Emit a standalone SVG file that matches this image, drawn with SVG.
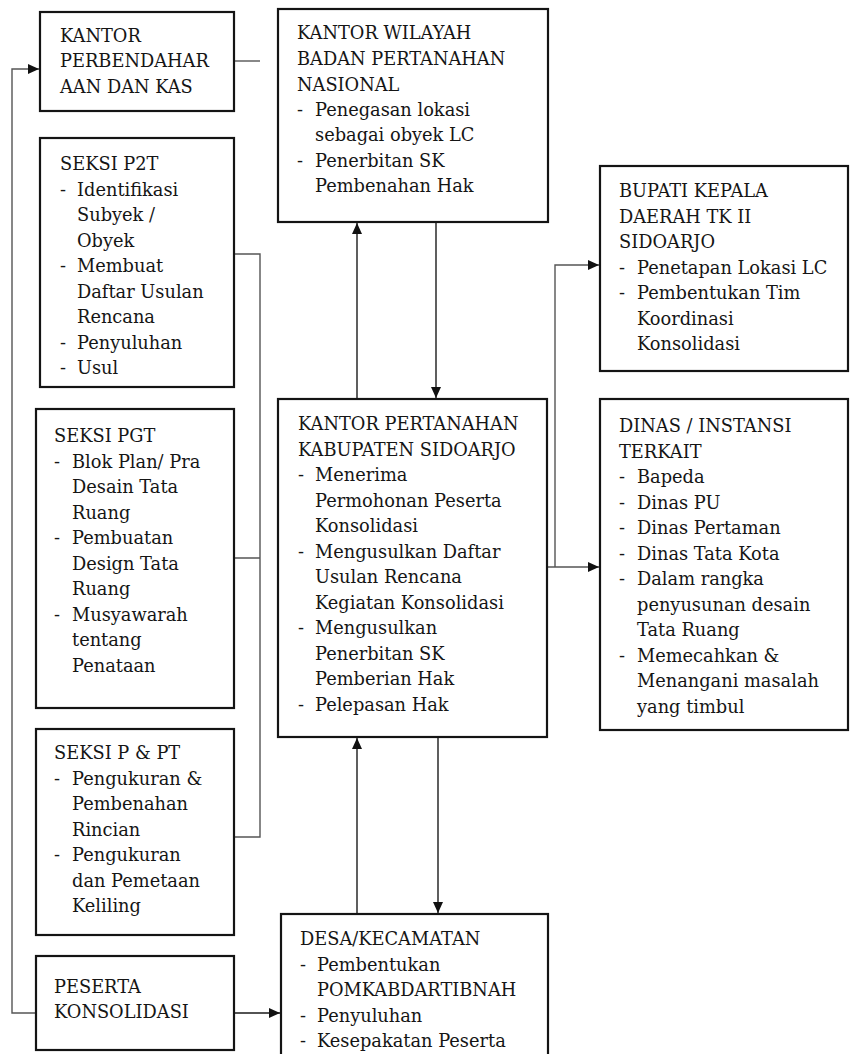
<svg xmlns="http://www.w3.org/2000/svg" width="851" height="1054" viewBox="0 0 851 1054">
<style>
.box{fill:#fff;stroke:#141414;stroke-width:2.2}
.t{font-family:"DejaVu Serif","Liberation Serif",serif;font-size:17.8px;fill:#151515}
.c{fill:none;stroke:#1a1a1a;stroke-width:1.4}
.g{fill:none;stroke:#555;stroke-width:1.4}
</style>
<defs>
<marker id="ah" markerUnits="userSpaceOnUse" markerWidth="11" markerHeight="10" refX="11" refY="5" orient="auto">
<path d="M0,0 L11,5 L0,10 z" fill="#111"/>
</marker>
</defs>
<rect width="851" height="1054" fill="#fff"/>
<g id="connectors">
<path class="g" d="M36,1013 H12 V69 H39" marker-end="url(#ah)"/>
<path class="g" d="M234,61 H260"/>
<path class="g" d="M234,254 H260 V837 H234 M234,558 H260"/>
<path class="c" d="M357,399 V223" marker-end="url(#ah)"/>
<path class="c" d="M436,222 V398" marker-end="url(#ah)"/>
<path class="c" d="M357,914 V738" marker-end="url(#ah)"/>
<path class="c" d="M438,737 V913" marker-end="url(#ah)"/>
<path class="c" d="M234,1013 H280" marker-end="url(#ah)"/>
<path class="g" d="M547,567 H599" marker-end="url(#ah)"/>
<path class="g" d="M555,567 V265 H599" marker-end="url(#ah)"/>
</g>
<g id="perbendaharaan">
<rect class="box" x="40" y="12" width="194" height="99"/>
<text class="t" x="60" y="42">KANTOR</text>
<text class="t" x="60" y="67">PERBENDAHAR</text>
<text class="t" x="60" y="93">AAN DAN KAS</text>
</g>
<g id="kanwil">
<rect class="box" x="278" y="9" width="270" height="213"/>
<text class="t" x="297" y="39">KANTOR WILAYAH</text>
<text class="t" x="297" y="65">BADAN PERTANAHAN</text>
<text class="t" x="297" y="91">NASIONAL</text>
<text class="t" x="297" y="116">-</text><text class="t" x="315" y="116">Penegasan lokasi</text>
<text class="t" x="315" y="141">sebagai obyek LC</text>
<text class="t" x="297" y="167">-</text><text class="t" x="315" y="167">Penerbitan SK</text>
<text class="t" x="315" y="192">Pembenahan Hak</text>
</g>
<g id="p2t">
<rect class="box" x="40" y="138" width="194" height="249"/>
<text class="t" x="60" y="170">SEKSI P2T</text>
<text class="t" x="60" y="196">-</text><text class="t" x="77" y="196">Identifikasi</text>
<text class="t" x="77" y="221">Subyek /</text>
<text class="t" x="77" y="247">Obyek</text>
<text class="t" x="60" y="272">-</text><text class="t" x="77" y="272">Membuat</text>
<text class="t" x="77" y="298">Daftar Usulan</text>
<text class="t" x="77" y="323">Rencana</text>
<text class="t" x="60" y="349">-</text><text class="t" x="77" y="349">Penyuluhan</text>
<text class="t" x="60" y="374">-</text><text class="t" x="77" y="374">Usul</text>
</g>
<g id="pgt">
<rect class="box" x="36" y="409" width="198" height="299"/>
<text class="t" x="54" y="442">SEKSI PGT</text>
<text class="t" x="54" y="467.5">-</text><text class="t" x="72" y="467.5">Blok Plan/ Pra</text>
<text class="t" x="72" y="493">Desain Tata</text>
<text class="t" x="72" y="518.5">Ruang</text>
<text class="t" x="54" y="544">-</text><text class="t" x="72" y="544">Pembuatan</text>
<text class="t" x="72" y="569.5">Design Tata</text>
<text class="t" x="72" y="595">Ruang</text>
<text class="t" x="54" y="620.5">-</text><text class="t" x="72" y="620.5">Musyawarah</text>
<text class="t" x="72" y="646">tentang</text>
<text class="t" x="72" y="671.5">Penataan</text>
</g>
<g id="ppt">
<rect class="box" x="36" y="729" width="198" height="206"/>
<text class="t" x="54" y="759">SEKSI P &amp; PT</text>
<text class="t" x="54" y="784.5">-</text><text class="t" x="72" y="784.5">Pengukuran &amp;</text>
<text class="t" x="72" y="810">Pembenahan</text>
<text class="t" x="72" y="835.5">Rincian</text>
<text class="t" x="54" y="861">-</text><text class="t" x="72" y="861">Pengukuran</text>
<text class="t" x="72" y="886.5">dan Pemetaan</text>
<text class="t" x="72" y="912">Keliling</text>
</g>
<g id="peserta">
<rect class="box" x="36" y="956" width="198" height="94"/>
<text class="t" x="54" y="993">PESERTA</text>
<text class="t" x="54" y="1018">KONSOLIDASI</text>
</g>
<g id="kantah">
<rect class="box" x="278" y="399" width="269" height="338"/>
<text class="t" x="298" y="430">KANTOR PERTANAHAN</text>
<text class="t" x="298" y="455.5">KABUPATEN SIDOARJO</text>
<text class="t" x="298" y="481">-</text><text class="t" x="315" y="481">Menerima</text>
<text class="t" x="315" y="506.5">Permohonan Peserta</text>
<text class="t" x="315" y="532">Konsolidasi</text>
<text class="t" x="298" y="557.5">-</text><text class="t" x="315" y="557.5">Mengusulkan Daftar</text>
<text class="t" x="315" y="583">Usulan Rencana</text>
<text class="t" x="315" y="608.5">Kegiatan Konsolidasi</text>
<text class="t" x="298" y="634">-</text><text class="t" x="315" y="634">Mengusulkan</text>
<text class="t" x="315" y="659.5">Penerbitan SK</text>
<text class="t" x="315" y="685">Pemberian Hak</text>
<text class="t" x="298" y="710.5">-</text><text class="t" x="315" y="710.5">Pelepasan Hak</text>
</g>
<g id="desa">
<rect class="box" x="281" y="914" width="267" height="160"/>
<text class="t" x="300" y="945">DESA/KECAMATAN</text>
<text class="t" x="300" y="970.5">-</text><text class="t" x="317" y="970.5">Pembentukan</text>
<text class="t" x="317" y="996">POMKABDARTIBNAH</text>
<text class="t" x="300" y="1021.5">-</text><text class="t" x="317" y="1021.5">Penyuluhan</text>
<text class="t" x="300" y="1047">-</text><text class="t" x="317" y="1047">Kesepakatan Peserta</text>
</g>
<g id="bupati">
<rect class="box" x="600" y="166" width="248" height="205"/>
<text class="t" x="619" y="197">BUPATI KEPALA</text>
<text class="t" x="619" y="222.5">DAERAH TK II</text>
<text class="t" x="619" y="248">SIDOARJO</text>
<text class="t" x="619" y="273.5">-</text><text class="t" x="637" y="273.5">Penetapan Lokasi LC</text>
<text class="t" x="619" y="299">-</text><text class="t" x="637" y="299">Pembentukan Tim</text>
<text class="t" x="637" y="324.5">Koordinasi</text>
<text class="t" x="637" y="350">Konsolidasi</text>
</g>
<g id="dinas">
<rect class="box" x="600" y="399" width="248" height="331"/>
<text class="t" x="619" y="432">DINAS / INSTANSI</text>
<text class="t" x="619" y="457.5">TERKAIT</text>
<text class="t" x="619" y="483">-</text><text class="t" x="637" y="483">Bapeda</text>
<text class="t" x="619" y="508.5">-</text><text class="t" x="637" y="508.5">Dinas PU</text>
<text class="t" x="619" y="534">-</text><text class="t" x="637" y="534">Dinas Pertaman</text>
<text class="t" x="619" y="559.5">-</text><text class="t" x="637" y="559.5">Dinas Tata Kota</text>
<text class="t" x="619" y="585">-</text><text class="t" x="637" y="585">Dalam rangka</text>
<text class="t" x="637" y="610.5">penyusunan desain</text>
<text class="t" x="637" y="636">Tata Ruang</text>
<text class="t" x="619" y="661.5">-</text><text class="t" x="637" y="661.5">Memecahkan &amp;</text>
<text class="t" x="637" y="687">Menangani masalah</text>
<text class="t" x="637" y="712.5">yang timbul</text>
</g>
</svg>
